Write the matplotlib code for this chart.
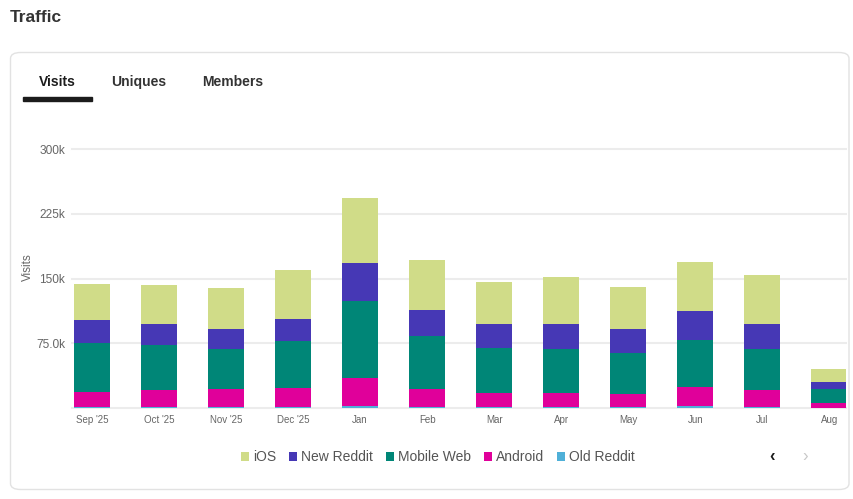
import numpy as np
import matplotlib.pyplot as plt
from matplotlib.patches import FancyBboxPatch, Rectangle

plt.rcParams['font.family'] = ['Liberation Sans', 'DejaVu Sans']

# monthly visits by platform (thousands)
months = ["Sep '25", "Oct '25", "Nov '25", "Dec '25", "Jan", "Feb",
          "Mar", "Apr", "May", "Jun", "Jul", "Aug"]
old_reddit = [1.9, 1.9, 1.9, 1.9, 3.0, 1.9, 1.9, 1.9, 1.9, 2.7, 1.9, 0.8]
android = [17.0, 19.3, 20.9, 22.0, 32.5, 20.9, 15.8, 16.2, 15.1, 22.4, 19.7, 5.4]
mobile_web = [57.1, 52.1, 45.8, 54.0, 88.3, 60.9, 52.1, 50.5, 47.0, 53.9, 47.0, 16.2]
new_reddit = [26.2, 24.3, 23.2, 25.4, 44.3, 30.1, 27.8, 29.0, 27.8, 33.6, 29.0, 8.1]
ios = [41.6, 45.1, 47.4, 56.7, 75.2, 57.8, 48.5, 54.3, 48.6, 56.7, 56.6, 15.0]

series = [("Old Reddit", old_reddit, "#4fb0d8"),
          ("Android", android, "#e0009a"),
          ("Mobile Web", mobile_web, "#008677"),
          ("New Reddit", new_reddit, "#4638b5"),
          ("iOS", ios, "#d0dc88")]
legend_order = ["iOS", "New Reddit", "Mobile Web", "Android", "Old Reddit"]
yticks = [0, 75000, 150000, 225000, 300000]
ytick_labels = ["", "75.0k", "150k", "225k", "300k"]

W, H = 854, 499
fig = plt.figure(figsize=(W / 100, H / 100), dpi=100)
fig.patch.set_facecolor('white')

def fx(px):
    return px / W

def fy(py):
    return 1 - py / H

# card
card = FancyBboxPatch((fx(10.5), fy(489.5)), fx(838.5), (489.5 - 52.5) / H,
                      boxstyle="round,pad=0,rounding_size=0.012",
                      transform=fig.transFigure, facecolor='white',
                      edgecolor='#e2e2e2', linewidth=1.0, zorder=-5)
fig.patches.append(card)

fig.text(fx(10), fy(17), "Traffic", fontsize=12.5, fontweight='bold',
         color='#333333', va='center', ha='left')
fig.text(fx(57), fy(82), "Visits", fontsize=10, fontweight='bold',
         color='#1c1c1c', va='center', ha='center')
fig.text(fx(139), fy(82), "Uniques", fontsize=10, fontweight='bold',
         color='#333333', va='center', ha='center')
fig.text(fx(233), fy(82), "Members", fontsize=10, fontweight='bold',
         color='#333333', va='center', ha='center')
fig.patches.append(Rectangle((fx(23), fy(100.5)), fx(69), 3.5 / H,
                             transform=fig.transFigure, color='#1c1c1c'))

ax = fig.add_axes([fx(72), fy(408.3), fx(846 - 72), (408.3 - 149) / H])
ax.set_zorder(2)
ax.patch.set_alpha(0)
x = np.arange(len(months))
bottom = np.zeros(len(months))
for name, vals, col in series:
    v = np.array(vals) * 1000
    ax.bar(x, v, width=0.54, bottom=bottom, color=col, label=name, zorder=3)
    bottom += v

ax.set_xlim(-0.3, 11.25)
ax.set_ylim(0, 300000)
ax.set_yticks(yticks)
ax.set_yticklabels(ytick_labels)
ax.set_xticks(x)
ax.set_xticklabels(months)
ax.grid(axis='y', color='#ececec', linewidth=1.5, zorder=0)
ax.set_axisbelow(True)
for s in ax.spines.values():
    s.set_visible(False)
ax.tick_params(axis='y', length=0, labelsize=8.6, labelcolor='#666666', pad=5)
ax.tick_params(axis='x', length=0, labelsize=7, labelcolor='#666666', pad=5)
for gl in ax.get_ygridlines():
    gl.set_clip_on(False)
ax.set_ylabel("Visits", fontsize=8.4, color='#666666')
ax.yaxis.set_label_coords((34 - 72) / 774, 0.545)

handles, labels = ax.get_legend_handles_labels()
hmap = dict(zip(labels, handles))
leg = fig.legend([hmap[n] for n in legend_order], legend_order,
                 loc='center', bbox_to_anchor=(fx(438), fy(457)), ncol=5,
                 frameon=False, fontsize=10, handlelength=0.6, handleheight=0.6,
                 handletextpad=0.3, columnspacing=0.9)
for t in leg.get_texts():
    t.set_color('#555555')

fig.text(fx(772), fy(456), "\u2039", fontsize=12, fontweight='bold',
         color='#1c1c1c', ha='center', va='center')
fig.text(fx(805), fy(456), "\u203a", fontsize=12, color='#c8c8c8',
         ha='center', va='center')

fig.savefig('out.png', dpi=100, facecolor='white')
